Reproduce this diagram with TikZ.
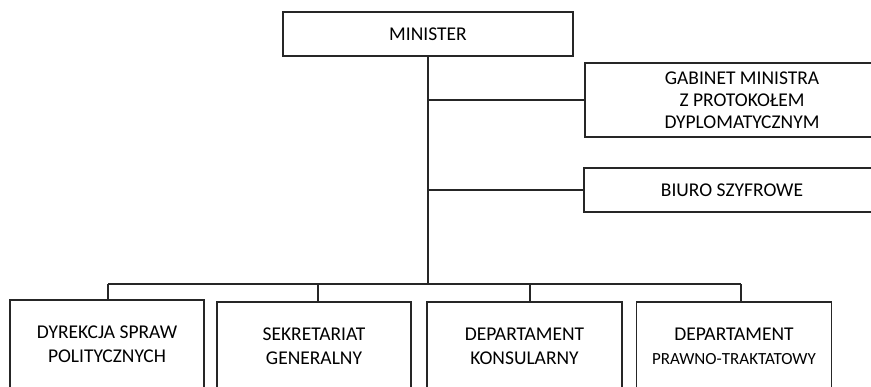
\documentclass[tikz,border=0pt]{standalone}
\usepackage{fontspec}
\setmainfont{Carlito}
\begin{document}
\begin{tikzpicture}[x=1pt,y=-1pt,
  box/.style={draw=black!85,line width=1.3pt,rectangle,inner sep=0pt,align=center,
     font=\fontsize{19.5}{24}\selectfont,text=black},
  conn/.style={draw=black!85,line width=1.3pt}]
\useasboundingbox (0,0) rectangle (871,386);
\node[box,minimum width=290,minimum height=44] (min) at (428,34) {MINISTER};
\node[box,minimum width=314,minimum height=74,font=\fontsize{19.5}{22}\selectfont] (gab) at (742,100) {GABINET MINISTRA\\ Z PROTOKOŁEM\\DYPLOMATYCZNYM};
\node[box,minimum width=296,minimum height=44] (biu) at (732,190) {BIURO SZYFROWE};
\node[box,minimum width=194,minimum height=88] (d1) at (107,344) {DYREKCJA SPRAW\\POLITYCZNYCH};
\node[box,minimum width=194,minimum height=88] (d2) at (314,346) {SEKRETARIAT\\GENERALNY};
\node[box,minimum width=195,minimum height=88] (d3) at (524.5,346) {DEPARTAMENT\\KONSULARNY};
\node[box,minimum width=195,minimum height=88] (d4) at (734,346) {DEPARTAMENT\\{\fontsize{17}{24}\selectfont PRAWNO-TRAKTATOWY}};
\coordinate (bar) at (428,284);
\draw[conn] (min.south) -- (bar);
\draw[conn] (min.south |- gab.west) -- (gab.west);
\draw[conn] (min.south |- biu.west) -- (biu.west);
\draw[conn] ([xshift=1]d1.north |- bar) -- ([xshift=7]d4.north |- bar);
\draw[conn] ([xshift=1]d1.north |- bar) -- ([xshift=1]d1.north);
\draw[conn] ([xshift=4]d2.north |- bar) -- ([xshift=4]d2.north);
\draw[conn] ([xshift=5.5]d3.north |- bar) -- ([xshift=5.5]d3.north);
\draw[conn] ([xshift=7]d4.north |- bar) -- ([xshift=7]d4.north);
\end{tikzpicture}
\end{document}
